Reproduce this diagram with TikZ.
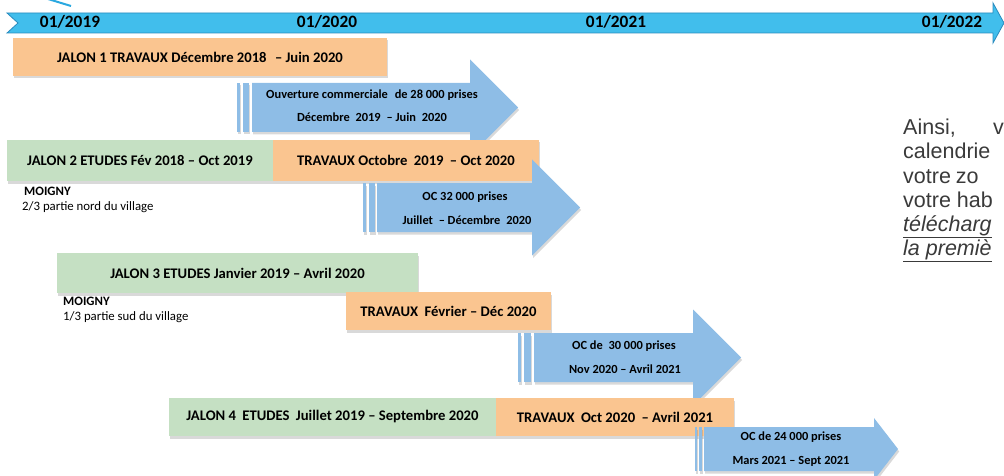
\documentclass[tikz,border=0pt]{standalone}
\usepackage{fontspec}
\setmainfont{Carlito}
\newfontfamily\helv{Liberation Sans}
\usetikzlibrary{shadows}
\definecolor{tlfill}{HTML}{41BEEC}
\definecolor{tldraw}{HTML}{2A8BBE}
\definecolor{orng}{HTML}{FAC590}
\definecolor{grn}{HTML}{C5E0C3}
\definecolor{abl}{HTML}{8EBDE6}
\definecolor{rtxt}{HTML}{3A3A3A}
\definecolor{cyanline}{HTML}{2AA8E0}
\begin{document}
\begin{tikzpicture}[x=1pt,y=-1pt,
  shd/.style={drop shadow={shadow xshift=1.2pt,shadow yshift=-2.5pt,opacity=0.3}},
  box/.style={inner sep=0pt,shd,font=\fontsize{14.67}{16}\selectfont\bfseries,text=black},
  obox/.style={box,fill=orng},
  gbox/.style={box,fill=grn},
  arr/.style={fill=abl,shd},
  atxt/.style={inner sep=0pt,font=\fontsize{12.4}{14}\selectfont\bfseries,text=black},
  yr/.style={inner sep=0pt,font=\fontsize{17.3}{20}\selectfont\bfseries,text=black},
  small/.style={inner sep=0pt,anchor=base west,font=\fontsize{12.8}{14}\selectfont,text=black},
  rt/.style={inner sep=0pt,anchor=base west,font=\fontsize{21.5}{24}\selectfont\helv,text=rtxt}]
\useasboundingbox (0,0) rectangle (1004,476);
% timeline
\draw[cyanline,line width=2pt] (48,-1) -- (71,6);
\filldraw[fill=tlfill,draw=tldraw,line width=0.8pt] (7,13) -- (993,13) -- (993,3) -- (1004,23) -- (993,43) -- (993,33) -- (7,33) -- (18,23) -- cycle;
\node[yr] (y19) at (70,22) {01/2019};
\node[yr] (y20) at (327,22) {01/2020};
\node[yr] (y21) at (616,22) {01/2021};
\node[yr] (y22) at (952,22) {01/2022};
% row 1
\node[obox,minimum width=374pt,minimum height=38pt] (j1) at (200,57) {JALON 1 TRAVAUX Décembre 2018\hspace{5pt} – Juin 2020};
\fill[arr] (237,83) rectangle (240,132);
\fill[arr] (243,83) rectangle (249,132);
\fill[arr] (252,83) -- (470,83) -- (470,59.5) -- (518,107.5) -- (470,155.5) -- (470,132) -- (252,132) -- cycle;
\node[atxt] (a1a) at (372,95) {Ouverture commerciale\hspace{4pt} de 28 000 prises};
\node[atxt] (a1b) at (372,117) {Décembre\hspace{3pt} 2019\hspace{3pt} – Juin\hspace{3pt} 2020};
% row 2
\node[gbox,minimum width=266pt,minimum height=41pt] (j2) at (140,160.5) {JALON 2 ETUDES Fév 2018 – Oct 2019};
\node[obox,minimum width=266pt,minimum height=41pt] (t2) at (406,160.5) {TRAVAUX Octobre\hspace{3pt} 2019\hspace{3pt} – Oct 2020};
\node[small,font=\fontsize{12.8}{14}\selectfont\bfseries] (m2) at (24,195) {MOIGNY};
\node[small] (p2) at (22,210) {2/3 partie nord du village};
\fill[arr] (363,183) rectangle (366,232);
\fill[arr] (369,183) rectangle (375,232);
\fill[arr] (377,183) -- (532,183) -- (532,159.5) -- (580,207.5) -- (532,255.5) -- (532,232) -- (377,232) -- cycle;
\node[atxt] (a2a) at (465,197) {OC 32 000 prises};
\node[atxt] (a2b) at (467,220) {Juillet\hspace{3pt} – Décembre\hspace{3pt} 2020};
% row 3
\node[gbox,minimum width=361pt,minimum height=40pt] (j3) at (237.5,273) {JALON 3 ETUDES Janvier 2019 – Avril 2020};
\node[small,font=\fontsize{12.8}{14}\selectfont\bfseries] (m3) at (63,305) {MOIGNY};
\node[small] (p3) at (63,320) {1/3 partie sud du village};
\node[obox,minimum width=205pt,minimum height=38pt] (t3) at (448.5,311) {TRAVAUX\hspace{3pt} Février – Déc 2020};
\fill[arr] (518,333) rectangle (521,382);
\fill[arr] (524,333) rectangle (531,382);
\fill[arr] (534,333) -- (693,333) -- (693,309.5) -- (741,357.5) -- (693,405.5) -- (693,382) -- (534,382) -- cycle;
\node[atxt] (a3a) at (624,346) {OC de\hspace{3pt} 30 000 prises};
\node[atxt] (a3b) at (625,369) {Nov 2020 – Avril 2021};
% row 4
\node[gbox,minimum width=327pt,minimum height=38pt] (j4) at (332.5,417) {JALON 4\hspace{3pt} ETUDES\hspace{3pt} Juillet 2019 – Septembre 2020};
\node[obox,minimum width=238pt,minimum height=38pt] (t4) at (615,417) {TRAVAUX\hspace{3pt} Oct 2020\hspace{3pt} – Avril 2021};
\fill[arr] (695,427) rectangle (697,471);
\fill[arr] (699,427) rectangle (702,471);
\fill[arr] (704,427) -- (874,427) -- (874,418) -- (898,449) -- (874,480) -- (874,471) -- (704,471) -- cycle;
\node[atxt] (a4a) at (791,437) {OC de 24 000 prises};
\node[atxt] (a4b) at (791,461) {Mars 2021 – Sept 2021};
% right text
\node[rt] (r1) at (903,135) {Ainsi,};
\node[rt] (r1b) at (993,135) {v};
\node[rt] (r2) at (903,159) {calendrie};
\node[rt] (r3) at (903,183) {votre\hspace{5pt}zo};
\node[rt] (r4) at (903,207) {votre hab};
\node[rt] (r5) at (903,231) {\underline{\itshape télécharg}};
\node[rt] (r6) at (903,255) {\underline{\itshape la premiè}};
\end{tikzpicture}
\end{document}
